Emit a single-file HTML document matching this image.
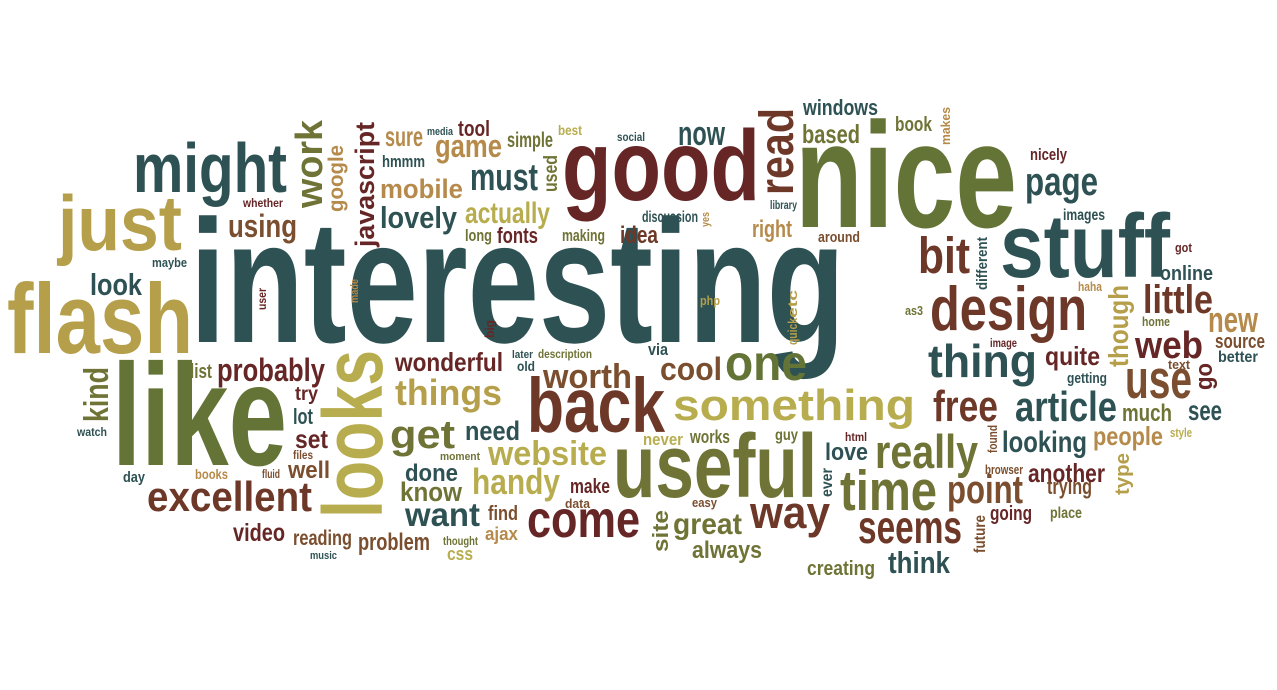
<!DOCTYPE html>
<html>
<head>
<meta charset="utf-8">
<style>
  html,body{margin:0;padding:0;background:#fff;}
  #cloud{display:block;width:1277px;height:690px;}
  text{font-family:"Liberation Sans",sans-serif;font-weight:bold;}
</style>
</head>
<body>
<svg id="cloud" width="1277" height="690" viewBox="0 0 1277 690" xmlns="http://www.w3.org/2000/svg">
  <rect x="0" y="0" width="1277" height="690" fill="#ffffff"/>
  <g id="words"></g>
</svg>
<script>
// palette keys
const palette = {T:"#2E5153",G:"#647436",O:"#6F7335",R:"#662626",B:"#6E3828",Y:"#B59F4A",N:"#B58A4A",L:"#B8AD4E",W:"#7A4E2E"};

// horizontal words: word, layout x, baseline y, font size, text length, color key
const hWords = [
["interesting",190,342,175,655,"T"],["nice",795,227,150,222,"G"],["good",562,200,100,198,"R"],
["like",112,465,145,175,"G"],["flash",7,353,99,186,"Y"],["just",58,250,78,124,"Y"],
["might",133,192,70,154,"T"],["stuff",1000,277,90,170,"T"],["useful",613,497,90,204,"O"],
["back",527,432,77,138,"B"],["something",673,420,44,242,"L"],["design",930,330,62,157,"B"],
["thing",928,377,46,109,"T"],["really",875,468,47,103,"O"],["time",840,510,57,97,"O"],
["way",750,528,45,80,"B"],["come",527,537,52,113,"R"],["excellent",147,511,42,165,"B"],
["one",725,380,50,82,"G"],["bit",918,273,51,52,"B"],["free",933,421,44,65,"B"],
["article",1015,421,42,102,"T"],["use",1125,398,55,67,"W"],["web",1135,358,38,68,"R"],
["little",1143,313,40,70,"B"],["page",1025,195,40,73,"T"],["point",947,503,40,76,"W"],
["seems",858,543,46,104,"B"],["think",888,573,31,62,"T"],["cool",660,380,32,62,"W"],
["worth",543,388,34,89,"W"],["things",395,405,36,107,"Y"],["get",390,448,40,65,"O"],
["wonderful",395,371,26,108,"R"],["website",488,465,34,119,"L"],["handy",472,494,36,88,"L"],
["know",400,501,27,62,"O"],["want",405,526,33,75,"T"],["need",465,440,27,55,"T"],
["done",405,481,24,53,"T"],["probably",217,381,32,108,"R"],["lovely",380,228,31,77,"T"],
["using",228,237,32,69,"W"],["mobile",380,198,27,83,"N"],["game",435,157,32,67,"N"],
["must",470,190,38,68,"T"],["actually",465,223,30,85,"L"],["now",678,145,34,47,"T"],
["based",802,143,26,58,"O"],["windows",803,115,22,75,"T"],["book",895,131,20,37,"O"],
["look",90,295,31,52,"T"],["video",233,541,25,52,"R"],["reading",293,545,21,59,"W"],
["problem",358,550,24,72,"W"],["lot",293,424,22,20,"T"],["set",295,448,26,33,"R"],
["well",288,478,24,42,"W"],["try",295,400,19,23,"R"],["list",190,378,20,22,"O"],
["great",673,534,30,69,"O"],["always",692,558,24,70,"O"],["love",825,460,24,43,"T"],
["creating",807,575,20,68,"O"],["looking",1002,452,30,85,"T"],["people",1093,445,26,70,"N"],
["another",1028,482,26,77,"R"],["trying",1047,494,22,45,"W"],["going",990,520,20,42,"R"],
["place",1050,518,16,32,"O"],["much",1122,421,24,50,"O"],["see",1188,420,28,34,"T"],
["quite",1045,365,26,55,"R"],["new",1208,332,36,50,"N"],["online",1160,280,20,53,"T"],
["nicely",1030,160,17,37,"R"],["images",1063,220,16,42,"T"],["sure",385,146,28,38,"N"],
["hmmm",382,167,17,43,"T"],["tool",458,136,22,32,"R"],["media",427,135,11,26,"T"],
["simple",507,147,21,46,"O"],["best",558,135,14,24,"L"],["social",617,141,12,28,"T"],
["fonts",497,243,22,41,"R"],["long",465,241,17,27,"O"],["making",562,241,17,43,"O"],
["discussion",642,222,16,56,"T"],["idea",620,243,24,38,"B"],["right",752,237,24,40,"N"],
["library",770,209,12,27,"T"],["around",818,242,15,42,"W"],["php",700,305,13,20,"Y"],
["maybe",152,267,13,35,"T"],["whether",243,207,12,40,"R"],["watch",77,436,12,30,"T"],
["books",195,479,14,33,"N"],["day",123,482,15,22,"T"],["fluid",262,478,12,18,"W"],
["files",293,459,12,20,"W"],["music",310,559,11,27,"T"],["later",512,358,11,21,"T"],
["description",538,358,12,54,"O"],["old",517,371,14,18,"T"],["via",648,355,17,20,"T"],
["never",643,445,17,40,"L"],["works",690,443,18,40,"O"],["guy",775,440,16,23,"O"],
["moment",440,460,11,40,"O"],["make",570,493,20,40,"R"],["data",565,508,13,25,"W"],
["easy",692,507,13,25,"W"],["find",488,520,20,30,"W"],["thought",443,545,12,35,"O"],
["ajax",485,540,18,33,"N"],["css",447,560,18,26,"L"],["html",845,441,12,22,"R"],
["browser",985,474,13,38,"W"],["style",1170,437,13,22,"L"],["got",1175,252,13,17,"R"],
["haha",1078,291,13,24,"N"],["as3",905,315,13,18,"O"],["home",1142,326,13,28,"O"],
["source",1215,348,20,50,"W"],["image",990,347,12,27,"R"],["better",1218,362,16,40,"T"],
["text",1168,369,13,22,"W"],["getting",1067,383,15,40,"T"]
];

// vertical words (read bottom to top): word, baseline x, bottom y, font size, text length, color key
const vWords = [
["work",322,208,38,88,"O"],["google",343,212,21,67,"N"],["javascript",374,247,27,125,"R"],
["user",266,310,12,22,"R"],["made",358,303,11,24,"N"],["read",793,195,48,87,"B"],
["used",557,192,19,37,"O"],["yes",709,227,11,15,"N"],["etc",797,318,13,28,"Y"],
["quick",797,345,13,27,"Y"],["big",494,338,13,18,"R"],["makes",950,145,13,38,"N"],
["different",987,290,15,53,"T"],["though",1128,367,28,82,"Y"],["kind",108,422,34,55,"O"],
["looks",382,518,84,168,"L"],["ever",832,497,16,29,"T"],["site",668,552,22,42,"O"],
["go",1212,390,24,27,"R"],["found",997,453,13,28,"W"],["type",1129,495,20,42,"Y"],
["future",985,553,16,38,"W"]
];

const NS = "http://www.w3.org/2000/svg";
const group = document.getElementById("words");

function makeWord(w, size, len, col){
  const t = document.createElementNS(NS, "text");
  t.setAttribute("font-size", size);
  t.setAttribute("textLength", len);
  t.setAttribute("lengthAdjust", "spacingAndGlyphs");
  t.setAttribute("fill", palette[col]);
  t.textContent = w;
  return t;
}

hWords.forEach(function(d){
  const t = makeWord(d[0], d[3], d[4], d[5]);
  t.setAttribute("x", d[1]);
  t.setAttribute("y", d[2]);
  
  
  group.appendChild(t);
});

vWords.forEach(function(d){
  const t = makeWord(d[0], d[3], d[4], d[5]);
  t.setAttribute("x", 0);
  t.setAttribute("y", 0);
  t.setAttribute("transform", "translate(" + d[1] + "," + d[2] + ") rotate(-90)");
  
  
  group.appendChild(t);
});
</script>
</body>
</html>
